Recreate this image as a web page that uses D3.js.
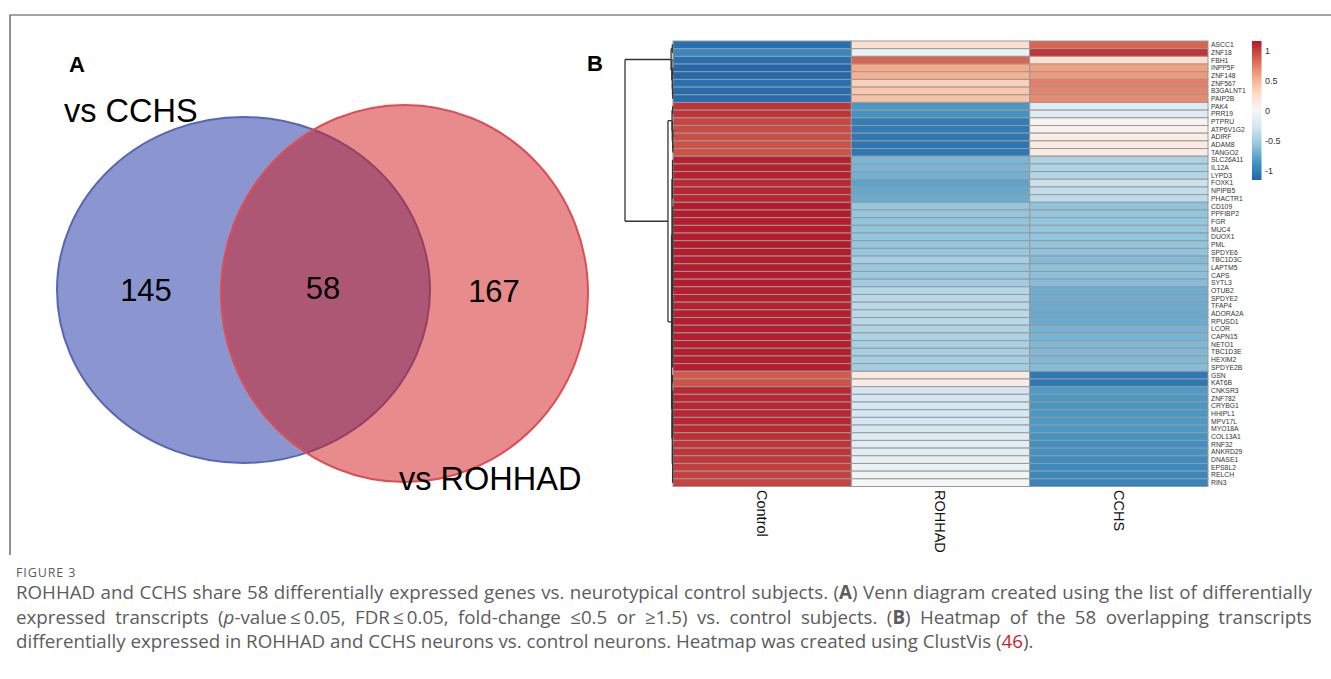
<!DOCTYPE html>
<html>
<head>
<meta charset="utf-8">
<title>Figure 3</title>
<script src="https://cdn.jsdelivr.net/npm/d3@7"></script>
<style>
  body { margin: 0; background: #fff; }
  #fig { position: relative; width: 1331px; height: 679px; overflow: hidden; }
  .cap { position: absolute; left: 16px; width: 1296px; font-family: "Open Sans", sans-serif; color: #5c5c5c; white-space: nowrap; }
  .row { display: flex; justify-content: space-between; }
</style>
</head>
<body>
<div id="fig"></div>
<script>
// ---- data ----
var vennSets = ["vs CCHS", "vs ROHHAD"];
var vennCounts = [145, 58, 167];   // CCHS only, shared, ROHHAD only

var groups = ["Control", "ROHHAD", "CCHS"];
var genes = ["ASCC1", "ZNF18", "FBH1", "INPP5F", "ZNF148", "ZNF567", "B3GALNT1", "PAIP2B",
  "PAK4", "PRR19", "PTPRU", "ATP6V1G2", "ADIRF", "ADAM8", "TANGO2", "SLC26A11", "IL12A",
  "LYPD3", "FOXK1", "NPIPB5", "PHACTR1", "CD109", "PPFIBP2", "FGR", "MUC4", "DUOX1", "PML",
  "SPDYE6", "TBC1D3C", "LAPTM5", "CAPS", "SYTL3", "OTUB2", "SPDYE2", "TFAP4", "ADORA2A",
  "RPUSD1", "LCOR", "CAPN15", "NETO1", "TBC1D3E", "HEXIM2", "SPDYE2B", "GSN", "KAT6B",
  "CNKSR3", "ZNF782", "CRYBG1", "HHIPL1", "MPV17L", "MYO18A", "COL13A1", "RNF32", "ANKRD29",
  "DNASE1", "EPS8L2", "RELCH", "RIN3"];

var controlVals = [-1.1, -0.95, -1.1, -1.15, -1.15, -1.1, -1.12, -1.12,
  1.05, 1.05, 0.98, 0.96, 0.95, 0.93, 0.93, 1.13, 1.13,
  1.13, 1.1, 1.11, 1.11, 1.15, 1.15, 1.15, 1.15, 1.15, 1.15,
  1.15, 1.14, 1.15, 1.15, 1.15, 1.14, 1.14, 1.13, 1.14,
  1.14, 1.14, 1.14, 1.14, 1.14, 1.14, 1.14, 0.9, 0.93,
  1.1, 1.11, 1.11, 1.11, 1.11, 1.1, 1.07, 1.05, 1.05,
  1.03, 1.02, 1.0, 0.99];
var rohhadVals = [0.25, -0.1, 0.85, 0.55, 0.52, 0.35, 0.4, 0.43,
  -0.85, -0.87, -1.02, -1.03, -1.05, -1.06, -1.05, -0.67, -0.68,
  -0.7, -0.78, -0.75, -0.73, -0.56, -0.57, -0.58, -0.58, -0.57, -0.57,
  -0.56, -0.5, -0.55, -0.54, -0.52, -0.42, -0.42, -0.4, -0.4,
  -0.41, -0.45, -0.46, -0.48, -0.49, -0.49, -0.51, 0.15, 0.12,
  -0.27, -0.27, -0.26, -0.26, -0.27, -0.26, -0.2, -0.16, -0.17,
  -0.12, -0.09, -0.05, -0.02];
var cchsVals = [0.85, 1.05, 0.25, 0.6, 0.63, 0.75, 0.72, 0.69,
  -0.2, -0.18, 0.04, 0.07, 0.1, 0.13, 0.12, -0.46, -0.45,
  -0.43, -0.32, -0.36, -0.38, -0.59, -0.58, -0.57, -0.57, -0.58, -0.58,
  -0.59, -0.64, -0.6, -0.61, -0.63, -0.72, -0.72, -0.73, -0.74,
  -0.73, -0.69, -0.68, -0.66, -0.65, -0.65, -0.63, -1.05, -1.05,
  -0.83, -0.84, -0.85, -0.85, -0.84, -0.84, -0.87, -0.89, -0.88,
  -0.91, -0.93, -0.95, -0.97];

// row clustering: [height, child, child, ...]; numbers are row indexes
var rowTree = [10,
  [0.4, [0.15, 0, 1], [0.25, 2, [0.15, [0.05, 3, 4], [0.1, 5, [0.05, 6, 7]]]]],
  [1.05,
    [0.2, [0.08, 8, 9], [0.15, 10, [0.08, [0.03, 11, 12], [0.03, 13, 14]]]],
    [0.3,
      [0.22, [0.1, 15, 16, 17, 18, 19, 20],
             [0.12, [0.05, 21, 22, 23, 24, 25, 26, 27, 28, 29, 30, 31, 32],
                    [0.06, 33, 34, 35, 36, 37, 38, 39, 40, 41, 42]]],
      [0.22, [0.1, 43, 44],
             [0.15, [0.06, 45, 46, 47, 48, 49, 50, 51],
                    [0.08, 52, 53, 54, 55, 56, 57]]]]]];

var legendTicks = [1, 0.5, 0, -0.5, -1];
var colorLimit = 1.164;
var palette = ["#2166ac", "#4393c3", "#92c5de", "#d1e5f0", "#f7f7f7", "#fddbc7", "#f4a582", "#d6604d", "#b2182b"];

var figureLabel = "FIGURE 3";
var captionLines = [
  "ROHHAD and CCHS share 58 differentially expressed genes vs. neurotypical control subjects. (<b>A</b>) Venn diagram created using the list of differentially",
  "expressed transcripts (<i>p</i>-value\u2009\u2264\u20090.05, FDR\u2009\u2264\u20090.05, fold-change \u22640.5 or \u22651.5) vs. control subjects. (<b>B</b>) Heatmap of the 58 overlapping transcripts",
  "differentially expressed in ROHHAD and CCHS neurons vs. control neurons. Heatmap was created using ClustVis (<span style=\"color:#d0202e\">46</span>)."
];

// ---- drawing ----
var W = 1331, H = 679;
var fig = d3.select("#fig");
var svg = fig.append("svg").attr("width", W).attr("height", H)
  .style("position", "absolute").style("left", 0).style("top", 0);

svg.append("rect").attr("width", W).attr("height", H).attr("fill", "#fff");

// frame
svg.append("path").attr("d", "M10,555V15H" + W)
  .attr("fill", "none").attr("stroke", "#4a4a4a").attr("stroke-width", 1.2);

var font = "Liberation Sans, Arial, sans-serif";

// panel letters
svg.append("text").attr("x", 69).attr("y", 72).text("A")
  .attr("font-family", font).attr("font-weight", "bold").attr("font-size", 22);
svg.append("text").attr("x", 587).attr("y", 71).text("B")
  .attr("font-family", font).attr("font-weight", "bold").attr("font-size", 22);

// ---- Venn (panel A) ----
var venn = svg.append("g");
var ellipses = [
  {cx: 243.5, cy: 290, rx: 186.5, ry: 173, fill: "#8b96d0", op: 1, stroke: "#5566b6"},
  {cx: 404.5, cy: 293.5, rx: 183.5, ry: 188.5, fill: "#d1171a", op: 0.5, stroke: "#dc4e56"}
];
venn.selectAll("ellipse").data(ellipses).join("ellipse")
  .attr("cx", function (d) { return d.cx; })
  .attr("cy", function (d) { return d.cy; })
  .attr("rx", function (d) { return d.rx; })
  .attr("ry", function (d) { return d.ry; })
  .attr("fill", function (d) { return d.fill; })
  .attr("fill-opacity", function (d) { return d.op; })
  .attr("stroke", function (d) { return d.stroke; })
  .attr("stroke-width", 2);

var countPos = [[146, 301], [323, 299], [494, 302]];
venn.selectAll("text.count").data(vennCounts).join("text")
  .attr("class", "count")
  .attr("x", function (d, i) { return countPos[i][0]; })
  .attr("y", function (d, i) { return countPos[i][1]; })
  .attr("text-anchor", "middle")
  .attr("font-family", font).attr("font-size", 31)
  .text(function (d) { return d; });

var setPos = [[64, 122], [399, 490]];
venn.selectAll("text.set").data(vennSets).join("text")
  .attr("class", "set")
  .attr("x", function (d, i) { return setPos[i][0]; })
  .attr("y", function (d, i) { return setPos[i][1]; })
  .attr("font-family", font).attr("font-size", 32.5)
  .text(function (d) { return d; });

// ---- Heatmap (panel B) ----
var x = d3.scaleBand().domain(groups).range([673, 1208]);
var y = d3.scaleBand().domain(genes).range([41, 486.5]);
var colorDomain = palette.map(function (c, i) { return -colorLimit + i * 2 * colorLimit / (palette.length - 1); });
var color = d3.scaleLinear().domain(colorDomain).range(palette).clamp(true);

var cells = [];
genes.forEach(function (g, i) {
  cells.push({gene: g, group: "Control", v: controlVals[i]});
  cells.push({gene: g, group: "ROHHAD", v: rohhadVals[i]});
  cells.push({gene: g, group: "CCHS", v: cchsVals[i]});
});

var hm = svg.append("g");
hm.selectAll("rect").data(cells).join("rect")
  .attr("x", function (d) { return x(d.group); })
  .attr("y", function (d) { return y(d.gene); })
  .attr("width", x.bandwidth())
  .attr("height", y.bandwidth())
  .attr("fill", function (d) { return color(d.v); })
  .attr("stroke", "#999")
  .attr("stroke-width", 1);

// gene labels
hm.selectAll("text.gene").data(genes).join("text")
  .attr("class", "gene")
  .attr("x", 1211)
  .attr("y", function (d) { return y(d) + y.bandwidth() / 2; })
  .attr("dy", "0.35em")
  .attr("font-family", font).attr("font-size", 6.8).attr("fill", "#333")
  .text(function (d) { return d; });

// column labels
hm.selectAll("text.col").data(groups).join("text")
  .attr("class", "col")
  .attr("transform", function (d) { return "translate(" + (x(d) + x.bandwidth() / 2) + ",490) rotate(90)"; })
  .attr("dy", "0.35em")
  .attr("font-family", font).attr("font-size", 14.5).attr("fill", "#111")
  .text(function (d) { return d; });

// row dendrogram
var xd = d3.scaleLinear().domain([0, 10]).range([673, 625]);
var dend = svg.append("g").attr("fill", "none").attr("stroke", "#333").attr("stroke-width", 1.3);
function drawNode(node) {
  if (typeof node === "number") {
    return {x: xd(0), y: y(genes[node]) + y.bandwidth() / 2};
  }
  var hx = xd(node[0]);
  var kids = node.slice(1).map(drawNode);
  var y0 = kids[0].y, y1 = kids[kids.length - 1].y;
  dend.append("line").attr("x1", hx).attr("x2", hx).attr("y1", y0).attr("y2", y1);
  kids.forEach(function (k) {
    dend.append("line").attr("x1", hx).attr("x2", k.x).attr("y1", k.y).attr("y2", k.y);
  });
  return {x: hx, y: (y0 + y1) / 2};
}
drawNode(rowTree);

// colour legend
var ly = d3.scaleLinear().domain([-colorLimit, colorLimit]).range([180, 41]);
var defs = svg.append("defs");
var grad = defs.append("linearGradient").attr("id", "lg")
  .attr("x1", 0).attr("y1", 1).attr("x2", 0).attr("y2", 0);
grad.selectAll("stop").data(colorDomain).join("stop")
  .attr("offset", function (d, i) { return i / (colorDomain.length - 1); })
  .attr("stop-color", function (d) { return color(d); });
svg.append("rect").attr("x", 1252).attr("y", ly(colorLimit))
  .attr("width", 9.5).attr("height", ly(-colorLimit) - ly(colorLimit))
  .attr("fill", "url(#lg)");
var lax = svg.append("g").attr("transform", "translate(1262,0)")
  .call(d3.axisRight(ly).tickValues(legendTicks).tickSize(0).tickPadding(3)
    .tickFormat(function (d) { return d === 0 ? "0" : String(d); }));
lax.select(".domain").remove();
lax.selectAll("text").attr("font-family", font).attr("font-size", 9).attr("fill", "#333");

// ---- caption ----
fig.append("div").attr("class", "cap")
  .style("top", "566px").style("font-size", "12.5px").style("line-height", "14px")
  .style("letter-spacing", "0.9px")
  .text(figureLabel);

var capTops = [582, 606.5, 631];
var lines = captionLines.map(function (txt, i) {
  var div = fig.append("div").attr("class", "cap").style("top", capTops[i] + "px");
  if (i < 2) {
    div.classed("row", true);
    txt.split(" ").forEach(function (w) { div.append("span").html(w); });
  } else {
    div.append("span").attr("class", "last").html(txt);
  }
  return div;
});
// fit the font size so the last line spans the same width as in the figure
var base = 15;
lines.forEach(function (l) { l.style("font-size", base + "px"); });
var w3 = fig.select("span.last").node().getBoundingClientRect().width;
var fs = base * 1018 / w3;
lines.forEach(function (l) { l.style("font-size", fs + "px").style("line-height", "20px"); });
</script>
</body>
</html>
